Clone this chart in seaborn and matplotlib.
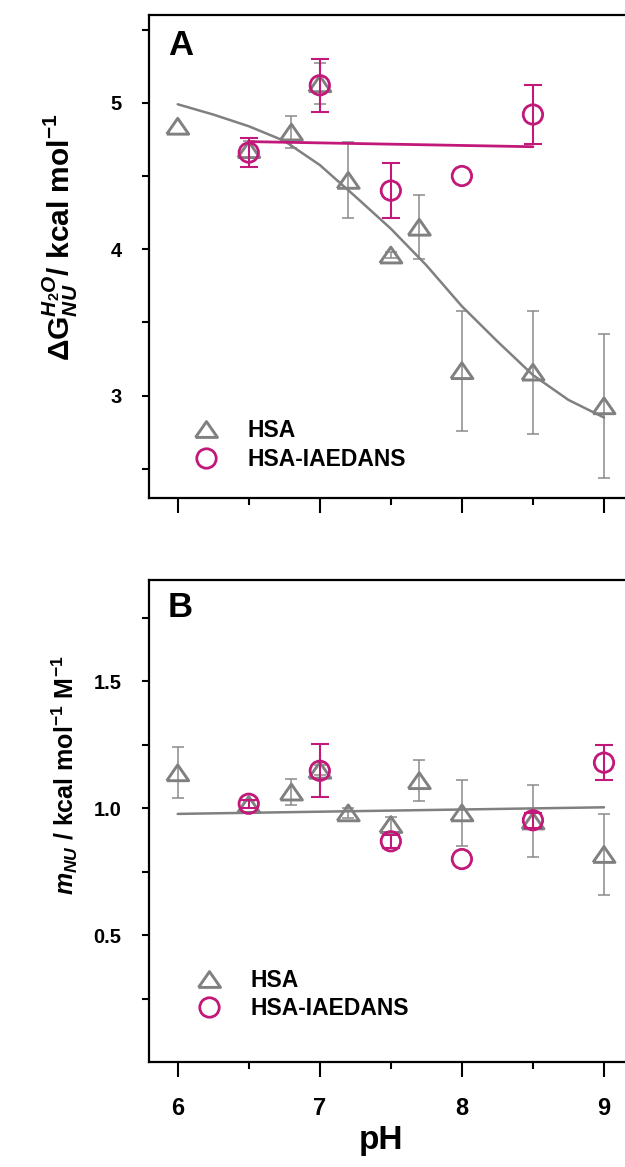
import numpy as np
import pandas as pd
import matplotlib
matplotlib.use("Agg")
import matplotlib.pyplot as plt
from matplotlib.lines import Line2D
from matplotlib.ticker import MultipleLocator, FixedLocator
import seaborn as sns

# ---------------- data ----------------
# Panel A: dG(H2O)_NU vs pH
ph_hsa_a = [6.0, 6.5, 6.8, 7.0, 7.2, 7.5, 7.7, 8.0, 8.5, 9.0]
dg_hsa = [4.84, 4.68, 4.80, 5.13, 4.47, 3.96, 4.15, 3.17, 3.16, 2.93]
dg_hsa_err = [0.0, 0.06, 0.11, 0.14, 0.26, 0.02, 0.22, 0.41, 0.42, 0.49]

ph_iae_a = [6.5, 7.0, 7.5, 8.0, 8.5]
dg_iae = [4.66, 5.12, 4.40, 4.50, 4.92]
dg_iae_err = [0.10, 0.18, 0.19, 0.0, 0.20]

fit_ph_hsa_a = [6.0, 6.25, 6.5, 6.75, 7.0, 7.25, 7.5, 7.75, 8.0, 8.25, 8.5, 8.75, 9.0]
fit_dg_hsa = [4.99, 4.92, 4.84, 4.74, 4.575, 4.36, 4.14, 3.89, 3.61, 3.37, 3.14, 2.97, 2.85]
fit_ph_iae_a = [6.5, 8.5]
fit_dg_iae = [4.735, 4.70]

# Panel B: m_NU vs pH
ph_hsa_b = [6.0, 6.5, 6.8, 7.0, 7.2, 7.5, 7.7, 8.0, 8.5, 9.0]
m_hsa = [1.14, 1.015, 1.064, 1.15, 0.982, 0.936, 1.109, 0.982, 0.95, 0.818]
m_hsa_err = [0.10, 0.015, 0.05, 0.02, 0.02, 0.03, 0.08, 0.13, 0.14, 0.16]

ph_iae_b = [6.5, 7.0, 7.5, 8.0, 8.5, 9.0]
m_iae = [1.018, 1.148, 0.870, 0.80, 0.953, 1.18]
m_iae_err = [0.015, 0.105, 0.025, 0.0, 0.03, 0.07]

fit_ph_hsa_b = [6.0, 9.0]
fit_m_hsa = [0.978, 1.004]

series_labels = ["HSA", "HSA-IAEDANS"]
x_ticks = [6, 7, 8, 9]

# ---------------- style ----------------
sns.set_theme(style="ticks")
plt.rcParams["font.family"] = ["Liberation Sans", "DejaVu Sans"]
plt.rcParams["font.weight"] = "bold"
plt.rcParams["text.color"] = "black"
plt.rcParams["axes.labelcolor"] = "black"
plt.rcParams["xtick.color"] = "black"
plt.rcParams["ytick.color"] = "black"
plt.rcParams["mathtext.fontset"] = "custom"
plt.rcParams["mathtext.rm"] = "Liberation Sans:bold"
plt.rcParams["mathtext.bf"] = "Liberation Sans:bold"
plt.rcParams["mathtext.it"] = "Liberation Sans:italic:bold"
plt.rcParams["mathtext.sf"] = "Liberation Sans"

GRAY = "#808080"
MAG = "#c2187a"
TRI = [(-1, -0.72), (1, -0.72), (0, 0.72), (-1, -0.72)]

fig = plt.figure(figsize=(6.25, 11.67), dpi=100)
W, H = 625.0, 1167.0
xl0, xl1 = 5.8, 9.2
ax_left = 149.3 / W
ax_w = (632.4 - 149.3) / W
axA = fig.add_axes([ax_left, (H - 498) / H, ax_w, 483 / H])
axB = fig.add_axes([ax_left, (H - 1062) / H, ax_w, 482 / H])


def draw_panel(ax, ph1, y1, e1, fx1, fy1, ph2, y2, e2, fx2, fy2):
    ph1 = np.array(ph1); y1 = np.array(y1); e1 = np.array(e1)
    ph2 = np.array(ph2); y2 = np.array(y2); e2 = np.array(e2)
    m = e1 > 0
    ax.errorbar(ph1[m], y1[m], yerr=e1[m], fmt="none", ecolor="#8a8a8a",
                elinewidth=1.1, capsize=4.5, capthick=1.1, zorder=2)
    sns.lineplot(x=fx1, y=fy1, ax=ax, color=GRAY, lw=1.8, zorder=3)
    sns.scatterplot(x=ph1, y=y1, ax=ax, marker=TRI, s=250, facecolors="none",
                    edgecolor=GRAY, linewidth=2.1, zorder=4, legend=False)
    m2 = e2 > 0
    ax.errorbar(ph2[m2], y2[m2], yerr=e2[m2], fmt="none", ecolor=MAG,
                elinewidth=1.5, capsize=6.5, capthick=1.5, zorder=5)
    if fx2 is not None:
        sns.lineplot(x=fx2, y=fy2, ax=ax, color=MAG, lw=2.0, zorder=6)
    sns.scatterplot(x=ph2, y=y2, ax=ax, marker="o", s=195, facecolors="none",
                    edgecolor=MAG, linewidth=2.0, zorder=7, legend=False)


draw_panel(axA, ph_hsa_a, dg_hsa, dg_hsa_err, fit_ph_hsa_a, fit_dg_hsa,
           ph_iae_a, dg_iae, dg_iae_err, fit_ph_iae_a, fit_dg_iae)
draw_panel(axB, ph_hsa_b, m_hsa, m_hsa_err, fit_ph_hsa_b, fit_m_hsa,
           ph_iae_b, m_iae, m_iae_err, None, None)

for ax in (axA, axB):
    ax.set_xlim(xl0, xl1)
    ax.xaxis.set_major_locator(FixedLocator(x_ticks))
    ax.xaxis.set_minor_locator(MultipleLocator(0.5))
    ax.tick_params(axis="x", which="major", direction="out", length=11, width=1.5,
                   pad=14, labelsize=17, color="black", labelcolor="black")
    ax.tick_params(axis="x", which="minor", direction="out", length=5, width=1.5,
                   color="black")
    ax.tick_params(axis="y", which="both", direction="out", length=5, width=1.5,
                   pad=15, labelsize=14.5, color="black", labelcolor="black")
    for s in ax.spines.values():
        s.set_linewidth(1.6)
        s.set_color("black")
        s.set_visible(True)
    ax.set_xlabel("")
    ax.set_ylabel("")
    for t in ax.get_xticklabels() + ax.get_yticklabels():
        t.set_fontweight("bold")

axA.set_ylim(2.3, 5.6)
axA.yaxis.set_major_locator(FixedLocator([3, 4, 5]))
axA.yaxis.set_minor_locator(FixedLocator([2.5, 3.5, 4.5, 5.5]))
axA.tick_params(axis="x", labelbottom=False)

axB.set_ylim(0.0, 1.9)
axB.yaxis.set_major_locator(FixedLocator([0.5, 1.0, 1.5]))
axB.yaxis.set_minor_locator(FixedLocator([0.25, 0.75, 1.25, 1.75]))
axB.set_yticklabels(["0.5", "1.0", "1.5"], fontweight="bold", color="black")

axA.set_ylabel(r"$\mathsf{\Delta}\mathbf{G}^{H_2O}_{NU}$/ kcal mol$^{-1}$",
               fontsize=21.5, fontweight="bold", color="black")
axA.yaxis.set_label_coords(-0.143, 0.54)
axB.set_ylabel(r"$m_{NU}$ / kcal mol$^{-1}$ M$^{-1}$", fontsize=18,
               fontweight="bold", color="black")
axB.yaxis.set_label_coords(-0.143, 0.595)
axB.set_xlabel("pH", fontsize=24, fontweight="bold", color="black")
axB.xaxis.set_label_coords(0.48, -0.13)

axA.text(0.04, 0.972, "A", transform=axA.transAxes, fontsize=25, fontweight="bold",
         ha="left", va="top", color="black")
axB.text(0.037, 0.977, "B", transform=axB.transAxes, fontsize=25, fontweight="bold",
         ha="left", va="top", color="black")

handles = [
    Line2D([], [], linestyle="none", marker=TRI, markersize=15.8, markerfacecolor="none",
           markeredgecolor=GRAY, markeredgewidth=2.1),
    Line2D([], [], linestyle="none", marker="o", markersize=14.0, markerfacecolor="none",
           markeredgecolor=MAG, markeredgewidth=2.0),
]
for ax, anchor in ((axA, (0.094, 0.11)), (axB, (0.100, 0.14))):
    leg = ax.legend(handles, series_labels, loc="center left", bbox_to_anchor=anchor,
                    frameon=False, borderpad=0, borderaxespad=0, handlelength=1.0,
                    handletextpad=1.3, labelspacing=0.25,
                    prop={"size": 16.5, "weight": "bold"})
    for t in leg.get_texts():
        t.set_color("black")

fig.savefig("out.png", dpi=100)
